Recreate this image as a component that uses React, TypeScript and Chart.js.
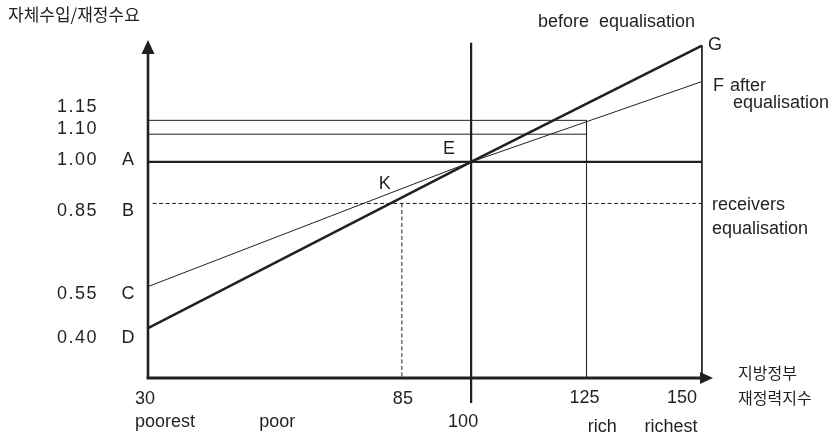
import React, { useEffect, useRef } from 'react';
import { Chart, registerables } from 'chart.js';

Chart.register(...registerables);

// ---------------- data ----------------
const incomeIndex = [30, 100, 150];            // x of the sloped lines (D/C → E → G/F)
const beforeEqualisation = [0.40, 1.00, 1.42]; // D → E → G
const afterEqualisation = [0.55, 1.00, 1.29];  // C → E → F
const xTickValues = [30, 85, 100, 125, 150];
const xTickLabels = ['30', '85', '100', '125', '150'];
const yTickValues = [1.15, 1.10, 1.00, 0.85, 0.55, 0.40];
const yTickLabels = ['1.15', '1.10', '1.00', '0.85', '0.55', '0.40'];
const yPointLetters = ['', '', 'A', 'B', 'C', 'D'];
const averageLevel = 1.00;     // A – E
const receiversLevel = 0.85;   // B – K
const richLevels = [1.15, 1.10];
const richIndex = 125;
const kIndex = 85;
const eIndex = 100;
const maxIndex = 150;
const eLineRange = [1.43, 0.13];
const wealthWords = ['poorest', 'poor', 'rich', 'richest'];
const wealthWordIndex = [30, 58, 128.4, 143.3];

// ---------------- scale bounds / style ----------------
const X_MIN = 30;
const X_MAX = 152.4;
const Y_MIN = 0.22;
const Y_MAX = 1.44;
const INK = '#231f20';
const LATIN = '18px "Liberation Sans", Arial, sans-serif';
const KOREAN_TOP = '17px "Noto Sans CJK KR", sans-serif';
const KOREAN_X = '16px "Noto Sans CJK KR", sans-serif';
const yLabelNudge = [-8, 0, 3, 13, 12, 15];
const xLabelNudgeX = [-3, 1, -8, -2, -20];
const xLabelNudgeY = [26, 26, 49, 25, 25];
const DASH = [4, 2.5];

const pts = (xs: number[], ys: number[]) => xs.map((x, i) => ({ x, y: ys[i] }));

const overlay = {
  id: 'overlay',
  afterDatasetsDraw(chart: any) {
    const { ctx, scales } = chart;
    const xs = scales.x;
    const ys = scales.y;
    const px = (v: number) => xs.getPixelForValue(v);
    const py = (v: number) => ys.getPixelForValue(v);
    ctx.save();
    ctx.strokeStyle = INK;
    ctx.fillStyle = INK;
    const ox = px(X_MIN);
    const oy = py(Y_MIN);
    const topY = py(Y_MAX);
    const rightX = px(X_MAX);

    // y axis with arrow
    ctx.lineWidth = 2.6;
    ctx.beginPath();
    ctx.moveTo(ox, oy + 1);
    ctx.lineTo(ox, topY + 12);
    ctx.stroke();
    ctx.beginPath();
    ctx.moveTo(ox, topY);
    ctx.lineTo(ox - 6.5, topY + 14);
    ctx.lineTo(ox + 6.5, topY + 14);
    ctx.closePath();
    ctx.fill();

    // x axis with arrow
    ctx.lineWidth = 3;
    ctx.beginPath();
    ctx.moveTo(ox - 1.3, oy);
    ctx.lineTo(rightX - 12, oy);
    ctx.stroke();
    ctx.beginPath();
    ctx.moveTo(rightX, oy);
    ctx.lineTo(rightX - 13, oy - 6);
    ctx.lineTo(rightX - 13, oy + 6);
    ctx.closePath();
    ctx.fill();

    const put = (t: string, X: number, Y: number, align: string = 'left', font: string = LATIN, spacing: string = '0px') => {
      ctx.font = font;
      ctx.textAlign = align;
      ctx.textBaseline = 'alphabetic';
      (ctx as any).letterSpacing = spacing;
      ctx.fillText(t, X, Y);
    };

    // y tick labels and letters
    yTickValues.forEach((v, i) => {
      const yy = py(v) + yLabelNudge[i];
      put(yTickLabels[i], ox - 50, yy, 'right', LATIN, '1.5px');
      if (yPointLetters[i]) put(yPointLetters[i], ox - 20, yy, 'center');
    });

    // x tick labels
    xTickValues.forEach((v, i) => {
      put(xTickLabels[i], px(v) + xLabelNudgeX[i], oy + xLabelNudgeY[i], 'center');
    });

    // wealth words
    put(wealthWords[0], px(wealthWordIndex[0]) - 13, oy + 49, 'left');
    put(wealthWords[1], px(wealthWordIndex[1]), oy + 49, 'center');
    put(wealthWords[2], px(wealthWordIndex[2]), oy + 54, 'center');
    put(wealthWords[3], px(wealthWordIndex[3]), oy + 54, 'center');

    // point labels
    const gx = px(maxIndex);
    const gy = py(beforeEqualisation[2]);
    const fy = py(afterEqualisation[2]);
    put('G', gx + 6, gy + 4, 'left');
    put('F', gx + 11, fy + 9, 'left');
    put('after', gx + 28, fy + 9, 'left');
    put('equalisation', gx + 31, fy + 26, 'left');
    put('before  equalisation', gx - 164, gy - 19, 'left');
    const by = py(receiversLevel);
    put('receivers', gx + 10, by + 7, 'left');
    put('equalisation', gx + 10, by + 31, 'left');
    put('E', px(eIndex) - 16, py(averageLevel) - 8, 'right');
    put('K', px(kIndex) - 11, by - 14, 'right');

    // axis titles
    put('자체수입/재정수요', ox - 140, topY - 19, 'left', KOREAN_TOP);
    put('지방정부', rightX + 25, oy + 1, 'left', KOREAN_X);
    put('재정력지수', rightX + 25, oy + 26, 'left', KOREAN_X);

    ctx.restore();
  },
};

export default function App() {
  const ref = useRef<HTMLCanvasElement | null>(null);
  useEffect(() => {
    if (!ref.current) return;
    const base = { borderColor: INK, pointRadius: 0, tension: 0, fill: false };
    const chart = new Chart(ref.current, {
      type: 'line',
      data: {
        datasets: [
          { ...base, data: pts(incomeIndex, beforeEqualisation), borderWidth: 2.6 },
          { ...base, data: pts(incomeIndex, afterEqualisation), borderWidth: 1 },
          { ...base, data: [{ x: X_MIN, y: averageLevel }, { x: maxIndex, y: averageLevel }], borderWidth: 2.2 },
          { ...base, data: [{ x: 31, y: receiversLevel }, { x: maxIndex, y: receiversLevel }], borderWidth: 1, borderDash: DASH },
          ...richLevels.map((l) => ({ ...base, data: [{ x: X_MIN, y: l }, { x: richIndex, y: l }], borderWidth: 1 })),
          { ...base, data: [{ x: eIndex, y: eLineRange[0] }, { x: eIndex, y: eLineRange[1] }], borderWidth: 2.2, clip: false },
          { ...base, data: [{ x: richIndex, y: richLevels[0] }, { x: richIndex, y: Y_MIN }], borderWidth: 1 },
          { ...base, data: [{ x: maxIndex, y: beforeEqualisation[2] }, { x: maxIndex, y: Y_MIN }], borderWidth: 1 },
          { ...base, data: [{ x: kIndex, y: receiversLevel }, { x: kIndex, y: Y_MIN }], borderWidth: 1, borderDash: DASH },
        ] as any,
      },
      options: {
        responsive: false,
        animation: false,
        devicePixelRatio: 1,
        layout: { padding: { left: 148, top: 40, right: 119, bottom: 58 } },
        plugins: { legend: { display: false }, title: { display: false }, tooltip: { enabled: false } },
        scales: {
          x: { type: 'linear', min: X_MIN, max: X_MAX, display: false },
          y: { type: 'linear', min: Y_MIN, max: Y_MAX, display: false },
        },
      },
      plugins: [overlay],
    });
    return () => chart.destroy();
  }, []);
  return (
    <div style={{ position: 'fixed', left: 0, top: 0, width: 832, height: 436, background: '#fff' }}>
      <canvas ref={ref} width={832} height={436} />
    </div>
  );
}
